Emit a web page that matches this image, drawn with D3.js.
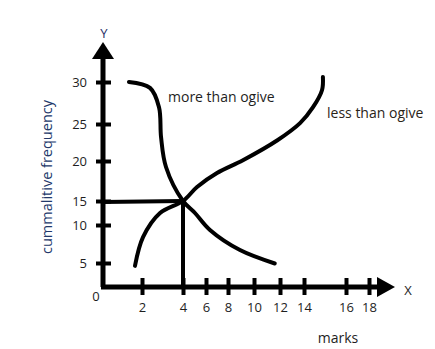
<!DOCTYPE html>
<html>
<head>
<meta charset="utf-8">
<script src="https://cdn.jsdelivr.net/npm/d3@7"></script>
<style>
  html, body { margin: 0; padding: 0; background: #fff; }
  svg text { font-family: "Open Sans", "Noto Sans", sans-serif; }
</style>
</head>
<body>
<svg id="chart" width="435" height="349"></svg>
<script>
// ---- data ----
const xTicks = [2, 4, 6, 8, 10, 12, 14, 16, 18];
const yTicks = [5, 10, 15, 20, 25, 30];
const moreThanX = [1.33, 2.39, 2.83, 2.93, 3.17, 4.0, 5.04, 6.36, 8.92, 11.6];
const moreThanY = [30.0, 29.3, 27.0, 23.2, 19.25, 15.0, 12.5, 9.34, 6.7, 4.9];
const lessThanX = [1.64, 2.05, 2.88, 4.0, 5.22, 7.0, 9.15, 11.8, 13.67, 14.43, 14.86, 14.9];
const lessThanY = [4.4, 8.4, 12.5, 15.0, 16.75, 18.5, 20.1, 22.8, 25.1, 27.0, 29.05, 30.6];
const guideX = [0, 4];
const guideY = [14.8, 15];
const labels = { x: "X", y: "Y", xTitle: "marks", yTitle: "cummalitive frequency",
                 more: "more than ogive", less: "less than ogive" };

// ---- layout (hand-drawn, unevenly spaced axes) ----
const svg = d3.select("#chart");
const x = d3.scaleLinear()
  .domain([0, 2, 4, 6, 8, 10, 12, 14, 16, 18])
  .range([103, 142, 183, 206, 228, 254, 280, 304, 346, 369]);
const y = d3.scaleLinear()
  .domain([0, 5, 10, 15, 20, 25, 30])
  .range([287, 263, 225, 201, 161, 124, 82]);

const ink = "#000";
const textCol = "#1e1e1e";

// axes lines
svg.append("line").attr("x1", x(0)).attr("y1", y(0)).attr("x2", x(0)).attr("y2", 56)
  .attr("stroke", ink).attr("stroke-width", 5);
svg.append("line").attr("x1", x(0) - 2).attr("y1", y(0)).attr("x2", 380).attr("y2", y(0))
  .attr("stroke", ink).attr("stroke-width", 5);
// arrows
svg.append("path").attr("d", `M${x(0)},42 L${x(0) + 11},59 L${x(0) - 11},59 Z`).attr("fill", ink);
svg.append("path").attr("d", `M395,${y(0)} L377,${y(0) - 10} L377,${y(0) + 10} Z`).attr("fill", ink);

// y ticks
const yAxis = d3.axisLeft(y).tickValues(yTicks).tickSize(0).tickFormat(d3.format("d"));
const gy = svg.append("g").attr("transform", `translate(${x(0)},0)`).call(yAxis);
gy.select(".domain").remove();
gy.selectAll(".tick text").attr("x", -16).attr("font-size", 13).attr("fill", textCol);
gy.selectAll(".tick").append("line").attr("x1", -7).attr("x2", 8).attr("y1", 0).attr("y2", 0)
  .attr("stroke", ink).attr("stroke-width", 4);

// x ticks
const xAxis = d3.axisBottom(x).tickValues(xTicks).tickSize(0).tickFormat(d3.format("d"));
const gx = svg.append("g").attr("transform", `translate(0,${y(0)})`).call(xAxis);
gx.select(".domain").remove();
gx.selectAll(".tick text").attr("y", 16).attr("font-size", 13).attr("fill", textCol);
gx.selectAll(".tick").append("line").attr("y1", -9).attr("y2", 8).attr("x1", 0).attr("x2", 0)
  .attr("stroke", ink).attr("stroke-width", 4);

// origin label
svg.append("text").attr("x", x(0) - 7).attr("y", y(0) + 14).attr("text-anchor", "middle")
  .attr("font-size", 13).attr("fill", textCol).text("0");
// axis letters
svg.append("text").attr("x", x(0) + 1).attr("y", 38).attr("text-anchor", "middle")
  .attr("font-size", 13).attr("fill", "#1f2f66").text(labels.y);
svg.append("text").attr("x", 408).attr("y", 295).attr("text-anchor", "middle")
  .attr("font-size", 13).attr("fill", textCol).text(labels.x);
// titles
svg.append("text").attr("x", 338).attr("y", 343).attr("text-anchor", "middle")
  .attr("font-size", 14).attr("fill", textCol).text(labels.xTitle);
svg.append("text").attr("transform", `translate(52,177) rotate(-90)`)
  .attr("text-anchor", "middle").attr("font-size", 14.5).attr("fill", "#22386a").text(labels.yTitle);

// curves
const line = d3.line().x(d => x(d[0])).y(d => y(d[1])).curve(d3.curveCatmullRom.alpha(0.5));
const straight = d3.line().x(d => x(d[0])).y(d => y(d[1]));
svg.append("path").datum(moreThanX.map((v, i) => [v, moreThanY[i]]))
  .attr("d", line).attr("fill", "none").attr("stroke", ink).attr("stroke-width", 4).attr("stroke-linecap", "round");
svg.append("path").datum(lessThanX.map((v, i) => [v, lessThanY[i]]))
  .attr("d", line).attr("fill", "none").attr("stroke", ink).attr("stroke-width", 4).attr("stroke-linecap", "round");
svg.append("path").datum(guideX.map((v, i) => [v, guideY[i]]))
  .attr("d", straight).attr("fill", "none").attr("stroke", ink).attr("stroke-width", 4);
svg.append("line").attr("x1", x(4)).attr("x2", x(4)).attr("y1", y(15)).attr("y2", y(0))
  .attr("stroke", ink).attr("stroke-width", 4);

// curve labels
svg.append("text").attr("x", 168).attr("y", 102).attr("font-size", 14).attr("fill", textCol).text(labels.more);
svg.append("text").attr("x", 327).attr("y", 118).attr("font-size", 14).attr("fill", "#2a2418").text(labels.less);
</script>
</body>
</html>
